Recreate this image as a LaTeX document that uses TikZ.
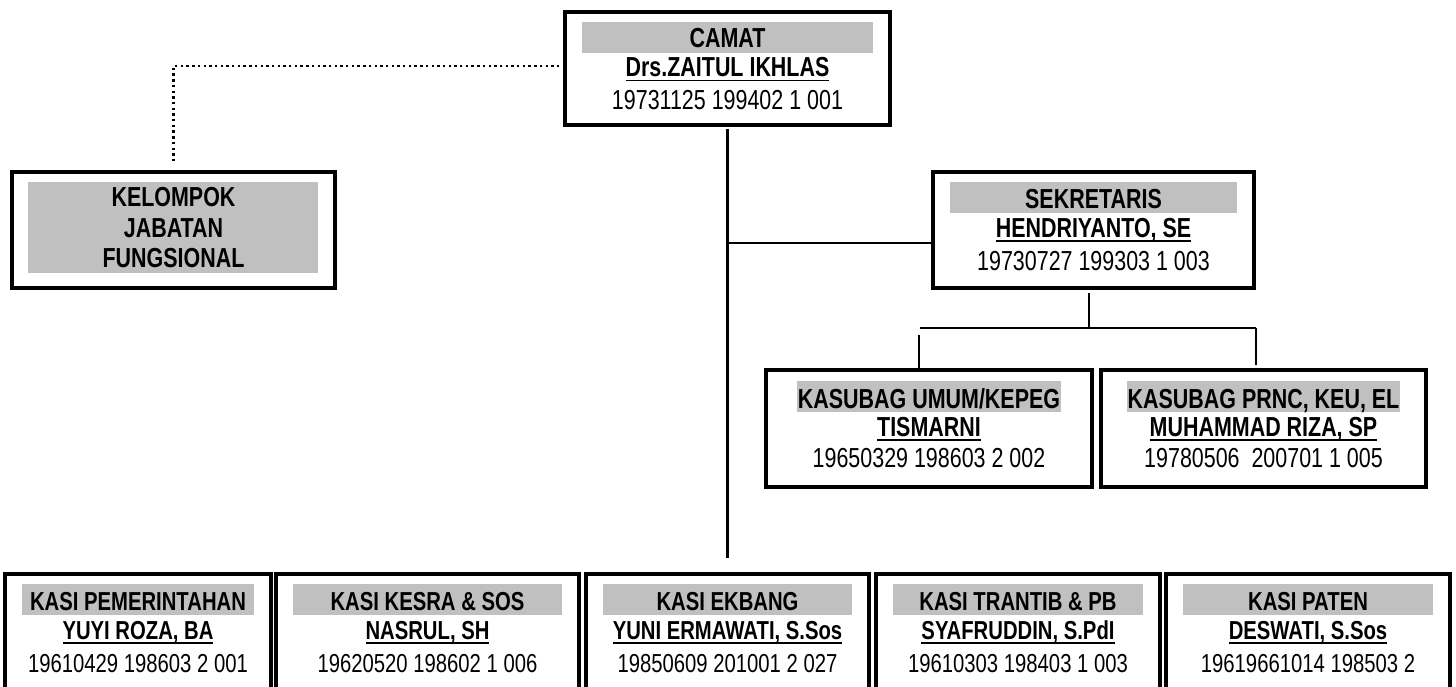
\documentclass[tikz,border=0pt]{standalone}
\usepackage{fontspec}
\setmainfont{Liberation Sans}[FakeStretch=0.78]
\definecolor{bandgray}{RGB}{192,192,192}
\newcommand{\ulin}[1]{\setbox0=\hbox{#1}\rlap{\rule[-4.5pt]{\wd0}{1.8pt}}\box0}
\newcommand{\fsz}{\fontsize{27.5}{33}\selectfont}
\tikzset{
  box/.style={draw, line width=3.1pt, inner sep=0pt, outer sep=0pt},
  band/.style={fill=bandgray},
  conn/.style={line width=2.8pt},
  dotline/.style={line width=2.4pt, dash pattern=on 2.4pt off 3.3pt},
  ttl/.style={anchor=base, inner sep=0pt, font=\fsz\bfseries},
  per/.style={anchor=base, inner sep=0pt, font=\fsz\bfseries},
  nip/.style={anchor=base, inner sep=0pt, font=\fsz},
}
% #1 name, #2 left, #3 top, #4 right, #5 bottom, #6 title, #7 person, #8 number
\newcommand{\obox}[8]{%
  \node[box, minimum width={#4-#2}, minimum height={#5-#3}] (#1) at ({(#2+#4)/2},{(#3+#5)/2}) {};
  \fill[band] ({#2+17},{#3+10}) rectangle ({#4-17},{#3+41});
  \node[ttl] (#1-t) at ({(#2+#4)/2},{#3+36}) {#6};
  \node[per] (#1-p) at ({(#2+#4)/2},{#3+65}) {\ulin{#7}};
  \node[nip] (#1-n) at ({(#2+#4)/2},{#3+98}) {#8};
}
\newcommand{\kbox}[8]{%
  \node[box, minimum width={#4-#2}, minimum height={#5-#3}] (#1) at ({(#2+#4)/2},{(#3+#5)/2}) {};
  \node[ttl, fill=bandgray, inner xsep=1pt, text height=27pt, text depth=4pt] (#1-t) at ({(#2+#4)/2},{#3+38}) {#6};
  \node[per] (#1-p) at ({(#2+#4)/2},{#3+66}) {\ulin{#7}};
  \node[nip] (#1-n) at ({(#2+#4)/2},{#3+97}) {#8};
}
\begin{document}
\begin{tikzpicture}[x=1pt,y=-1pt]
\useasboundingbox (0,0) rectangle (1456,687);
\fill[white] (0,0) rectangle (1456,687);
\clip (0,0) rectangle (1456,687);

% CAMAT
\obox{camat}{565}{12}{890}{125}{CAMAT}{Drs.ZAITUL IKHLAS}{19731125 199402 1 001}

% KELOMPOK JABATAN FUNGSIONAL
\node[box, minimum width=323, minimum height=116] (kel) at (173.5,230) {};
\fill[band] (28,182) rectangle (318,273);
\node[ttl] (kel-1) at (173.5,207) {KELOMPOK};
\node[ttl] (kel-2) at (173.5,237) {JABATAN};
\node[ttl] (kel-3) at (173.5,267) {FUNGSIONAL};

% SEKRETARIS
\obox{sek}{933}{172}{1254}{288}{SEKRETARIS}{HENDRIYANTO, SE}{19730727 199303 1 003}

% KASUBAG
\kbox{kas1}{766}{370}{1092}{487}{KASUBAG UMUM/KEPEG}{TISMARNI}{19650329 198603 2 002}
\kbox{kas2}{1101}{370}{1426}{487}{KASUBAG PRNC, KEU, EL}{MUHAMMAD RIZA, SP}{19780506\ \ 200701 1 005}

% KASI row
\begin{scope}
\renewcommand{\fsz}{\fontsize{26}{31}\selectfont}
\obox{pem}{5}{574}{271}{700}{KASI PEMERINTAHAN}{YUYI ROZA, BA}{19610429 198603 2 001}
\obox{kesra}{276}{574}{579}{700}{KASI KESRA \& SOS}{NASRUL, SH}{19620520 198602 1 006}
\obox{ekbang}{586}{574}{869}{700}{KASI EKBANG}{YUNI ERMAWATI, S.Sos}{19850609 201001 2 027}
\obox{trantib}{876}{574}{1160}{700}{KASI TRANTIB \& PB}{SYAFRUDDIN, S.PdI}{19610303 198403 1 003}
\obox{paten}{1166}{574}{1450}{700}{KASI PATEN}{DESWATI, S.Sos}{19619661014 198503 2}
\end{scope}

% connectors
\draw[dotline] ([yshift=2.5pt]camat.west) -| ([yshift=9pt]kel.north);
\draw[conn] ([yshift=-4pt]camat.south) -- ([yshift=16pt]ekbang.north);
\coordinate (j1) at (728,243);
\draw[conn] (j1) -- (j1 -| sek.west);
\coordinate (h1) at (920,328);
\coordinate (h2) at (1256,328);
\coordinate (s1) at (1089,293);
\draw[conn] (s1) -- (s1 |- h1);
\draw[conn] (h1) -- (h2);
\coordinate (d1) at (919,335);
\draw[conn] (d1) -- (d1 |- kas1.north);
\coordinate (e2) at (1256,365);
\draw[conn] (h2) -- (e2);
\end{tikzpicture}
\end{document}
